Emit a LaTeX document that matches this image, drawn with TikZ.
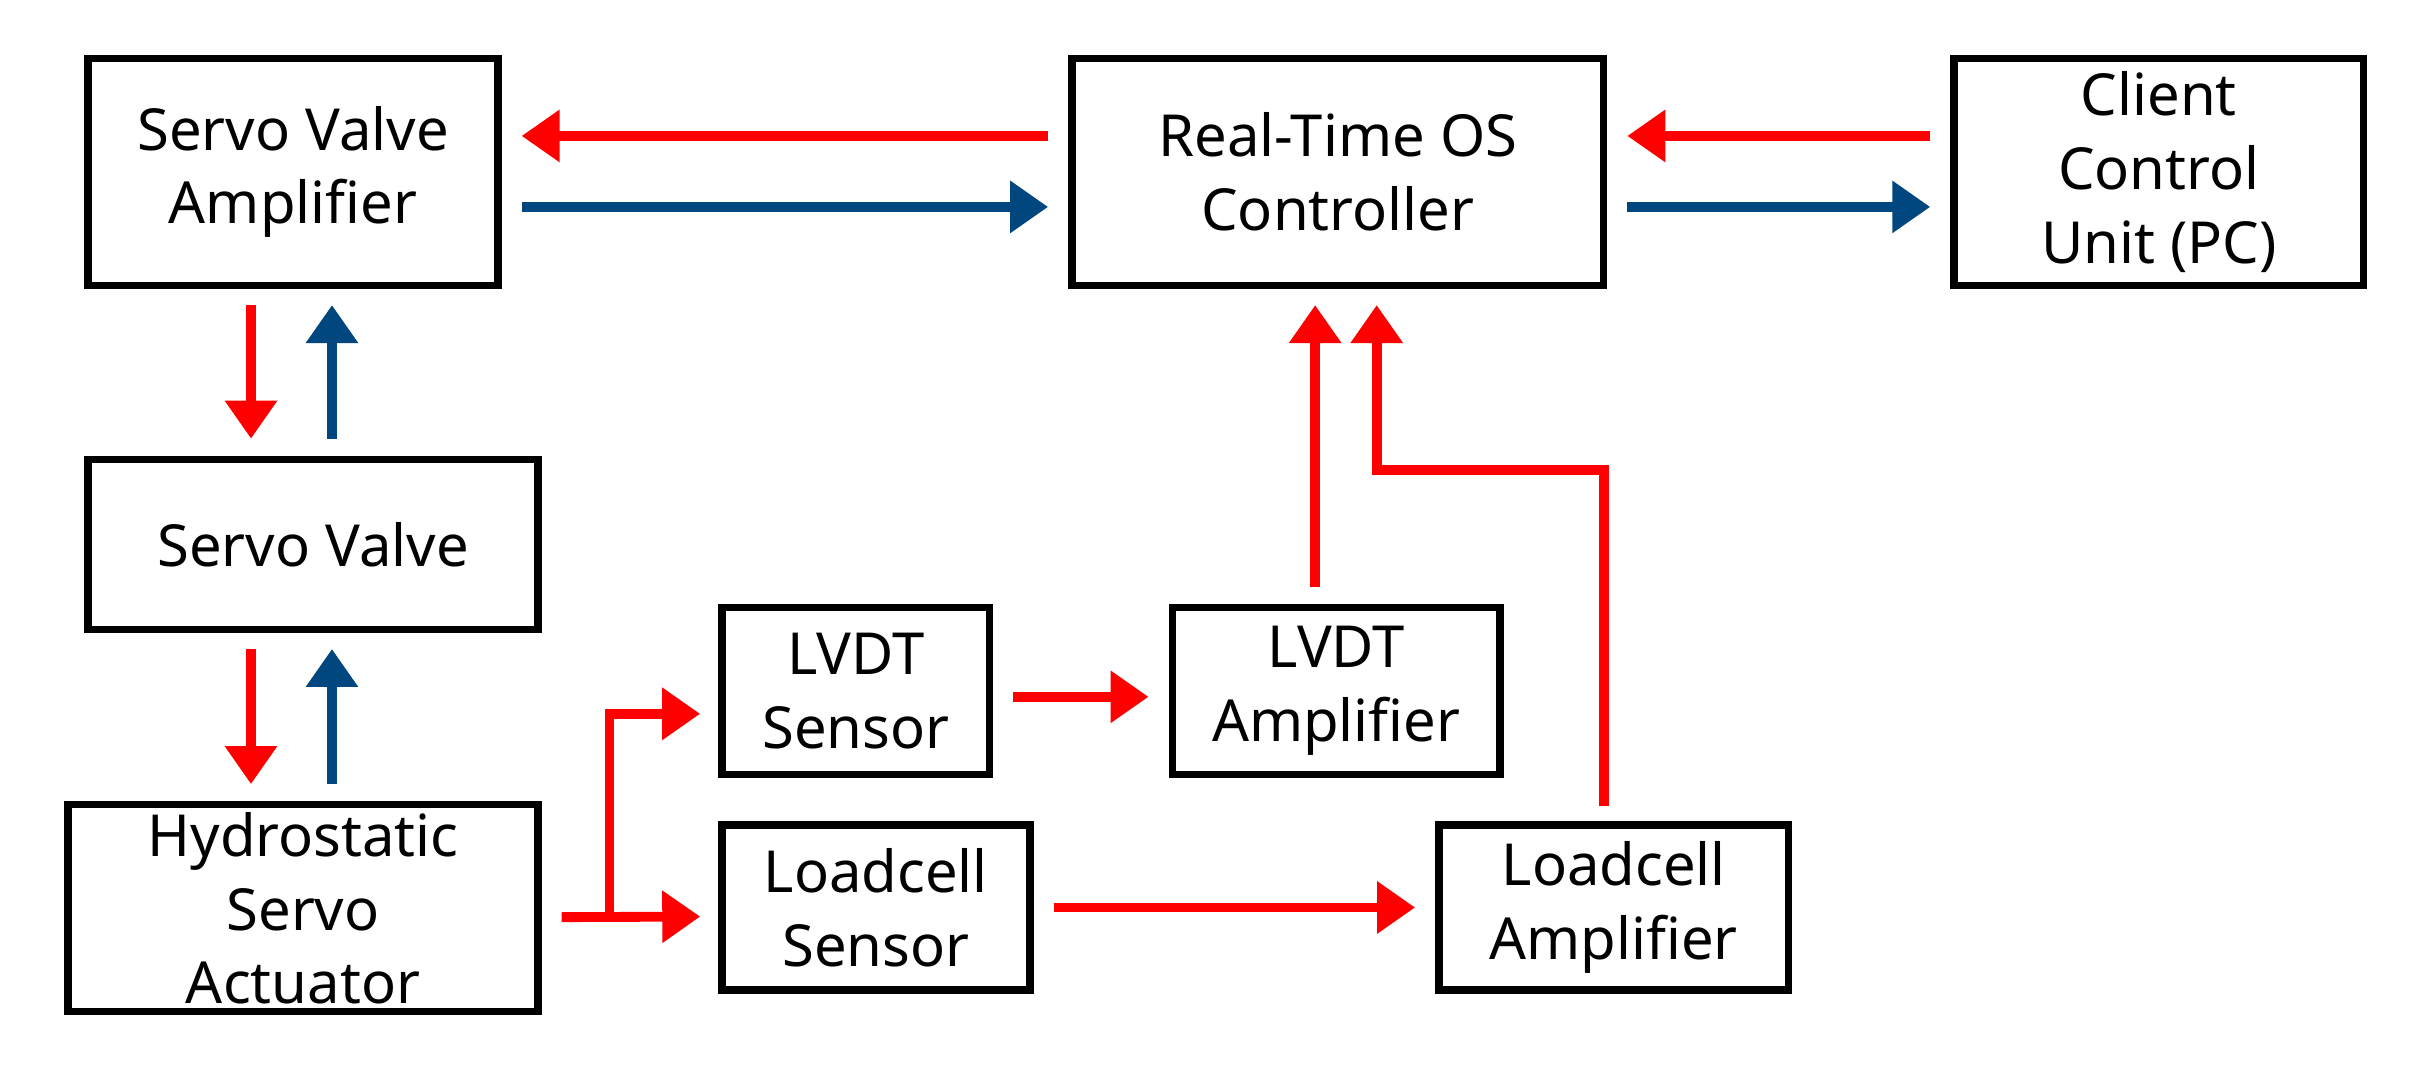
\documentclass[tikz,border=0pt]{standalone}
\usepackage{fontspec}
\setmainfont{Noto Sans}
\usetikzlibrary{arrows.meta, positioning, calc}
\definecolor{sigRed}{RGB}{255,0,0}
\definecolor{sigBlue}{RGB}{0,70,127}

\begin{document}
\begin{tikzpicture}[
    x=0.01542cm, y=-0.01542cm,
    block/.style={rectangle, draw, line width=2.1pt, align=center, font=\fontsize{16.5}{21}\selectfont, inner sep=2pt},
    ra/.style={-{Triangle[length=0.38cm,width=0.5cm]}, line width=2.8pt, draw=sigRed},
    ba/.style={ra, draw=sigBlue},
    gap/.style={shorten >=0.2cm, shorten <=0.2cm}
]
\useasboundingbox (0,0) rectangle (1570,694);

\node[block, minimum width=4.10cm, minimum height=2.27cm] (sva) at (190,111.5) {Servo Valve\\Amplifier};
\node[block, minimum width=5.32cm, minimum height=2.27cm] (rtos) at (867.5,111.5) {Real-Time OS\\Controller};
\node[block, minimum width=4.10cm, minimum height=2.27cm] (client) at (1400,111.5) {Client\\Control\\Unit (PC)};
\node[block, minimum width=4.50cm, minimum height=1.70cm] (sv) at (203,353) {Servo Valve};
\node[block, minimum width=4.70cm, minimum height=2.07cm] (hsa) at (196.5,589) {Hydrostatic\\Servo\\Actuator};
\node[block, minimum width=2.68cm, minimum height=1.67cm] (lvdts) at (555,448) {LVDT\\Sensor};
\node[block, minimum width=3.28cm, minimum height=1.67cm] (lvdta) at (866.5,448) {LVDT\\Amplifier};
\node[block, minimum width=3.08cm, minimum height=1.65cm] (lcs) at (568,588.5) {Loadcell\\Sensor};
\node[block, minimum width=3.50cm, minimum height=1.65cm] (lca) at (1046.5,588.5) {Loadcell\\Amplifier};

% top row
\draw[ra, gap] ([yshift=0.36cm]rtos.west) -- ([yshift=0.36cm]sva.east);
\draw[ba, gap] ([yshift=-0.35cm]sva.east) -- ([yshift=-0.35cm]rtos.west);
\draw[ra, gap] ([yshift=0.36cm]client.west) -- ([yshift=0.36cm]rtos.east);
\draw[ba, gap] ([yshift=-0.35cm]rtos.east) -- ([yshift=-0.35cm]client.west);

% left column
\draw[ra, shorten <=0.16cm, shorten >=0.17cm] ([xshift=-0.42cm]sva.south) -- ([xshift=-0.42cm]sva.south |- sv.north);
\draw[ba, shorten <=0.17cm, shorten >=0.16cm] ([xshift=0.39cm]sva.south |- sv.north) -- ([xshift=0.39cm]sva.south);
\draw[ra, shorten <=0.16cm, shorten >=0.17cm] ([xshift=-0.42cm]sva.south |- sv.south) -- ([xshift=-0.42cm]sva.south |- hsa.north);
\draw[ba, shorten <=0.17cm, shorten >=0.16cm] ([xshift=0.39cm]sva.south |- hsa.north) -- ([xshift=0.39cm]sva.south |- sv.south);

% sensors
\coordinate (split) at ($(hsa.east)+(44,6)$);
\draw[ra, shorten <=0.2cm, shorten >=0.18cm] ([yshift=-0.09cm]hsa.east) -- ([yshift=-0.09cm]lcs.west);
\draw[ra, shorten >=0.18cm] (split) |- ([yshift=-0.23cm]lvdts.west);
\draw[ra, gap] ([yshift=-0.06cm]lvdts.east) -- ([yshift=-0.06cm]lvdta.west);
\draw[ra, gap] (lcs.east) -- (lca.east -| lca.west);

% feedback
\draw[ra, shorten <=0.17cm, shorten >=0.16cm] ([xshift=-0.21cm]lvdta.north) -- ([xshift=-0.21cm]lvdta.north |- rtos.south);
\draw[ra, shorten <=0.15cm, shorten >=0.16cm] ([xshift=-0.1cm]lca.north) -- ([xshift=-0.1cm]lca.north |- 0,305) -| ([xshift=0.39cm]rtos.south);

\end{tikzpicture}
\end{document}
